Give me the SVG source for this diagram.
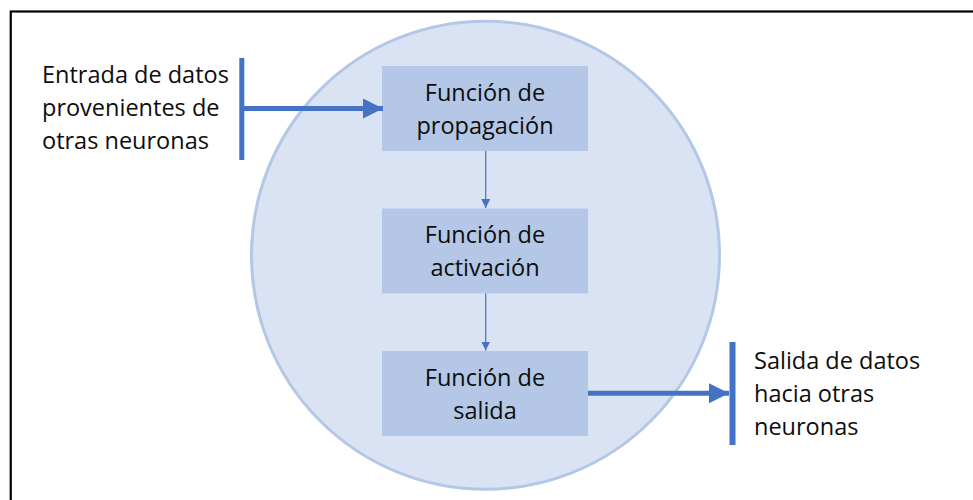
<svg xmlns="http://www.w3.org/2000/svg" width="973" height="500" viewBox="0 0 973 500">
<defs>
<style>
.txt{font-family:"Open Sans","Noto Sans","Liberation Sans",sans-serif;font-size:23.5px;fill:#0d0d0d;}
.box{fill:#B4C7E7;}
.thick{stroke:#4472C4;stroke-width:5;fill:none;}
.thin{stroke:#4472C4;stroke-width:1.2;fill:none;}
</style>
<marker id="big" markerUnits="userSpaceOnUse" markerWidth="22" markerHeight="20" refX="20" refY="10" orient="auto">
<path d="M0,0 L20,10 L0,20 Z" fill="#4472C4"/>
</marker>
<marker id="small" markerUnits="userSpaceOnUse" markerWidth="10" markerHeight="10" refX="9" refY="4.5" orient="auto">
<path d="M0,0 L9,4.5 L0,9 Z" fill="#4472C4"/>
</marker>
</defs>
<rect width="973" height="500" fill="#fff"/>
<rect x="10.75" y="11.5" width="1000" height="550" fill="none" stroke="#000" stroke-width="2.2"/>
<g id="neuron">
<circle cx="485.5" cy="255.3" r="234" fill="#DAE3F3" stroke="#B4C7E7" stroke-width="3"/>
</g>
<g id="node-propagacion">
<rect class="box" x="382" y="66" width="206" height="85"/>
<text class="txt" x="485" y="100.5" text-anchor="middle">Función de</text>
<text class="txt" x="485" y="133.5" text-anchor="middle">propagación</text>
</g>
<g id="node-activacion">
<rect class="box" x="382" y="208.5" width="206" height="85"/>
<text class="txt" x="485" y="243" text-anchor="middle">Función de</text>
<text class="txt" x="485" y="276" text-anchor="middle">activación</text>
</g>
<g id="node-salida">
<rect class="box" x="382" y="351" width="206" height="85"/>
<text class="txt" x="485" y="385.5" text-anchor="middle">Función de</text>
<text class="txt" x="485" y="418.5" text-anchor="middle">salida</text>
</g>
<g id="input">
<rect x="239.3" y="58" width="5" height="102" fill="#4472C4"/>
<text class="txt" x="42" y="83">Entrada de datos</text>
<text class="txt" x="42" y="116">provenientes de</text>
<text class="txt" x="42" y="149">otras neuronas</text>
</g>
<g id="output">
<rect x="729.5" y="342" width="6" height="103" fill="#4472C4"/>
<text class="txt" x="754" y="368.5">Salida de datos</text>
<text class="txt" x="754" y="401.5">hacia otras</text>
<text class="txt" x="754" y="435">neuronas</text>
</g>
<g id="connectors">
<line class="thick" x1="244" y1="108.5" x2="383" y2="108.5" marker-end="url(#big)"/>
<line class="thick" x1="588" y1="393.3" x2="729" y2="393.3" marker-end="url(#big)"/>
<line class="thin" x1="485.7" y1="151" x2="485.7" y2="208" marker-end="url(#small)"/>
<line class="thin" x1="485.7" y1="293.5" x2="485.7" y2="350.5" marker-end="url(#small)"/>
</g>
</svg>
